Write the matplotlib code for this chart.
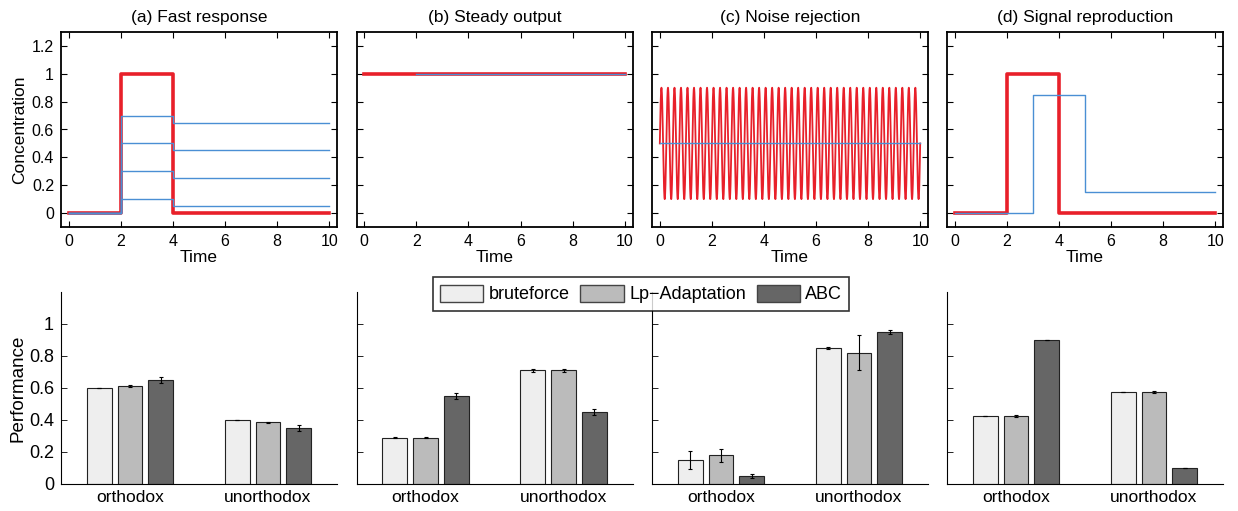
import numpy as np
import matplotlib
matplotlib.use("Agg")
import matplotlib.pyplot as plt
from matplotlib.patches import Patch

plt.rcParams['font.family'] = ['Liberation Sans', 'DejaVu Sans']

# ---------------- data ----------------
titles = ["(a) Fast response", "(b) Steady output", "(c) Noise rejection", "(d) Signal reproduction"]

# (a) input step and four output responses (piecewise constant)
a_input_t = [0, 2, 2, 4, 4, 10]
a_input_y = [0, 0, 1, 1, 0, 0]
a_resp_t = [0, 2, 2, 4, 4, 10]
a_resp_high = [0.7, 0.5, 0.3, 0.1]     # level during pulse (2..4)
a_resp_after = [0.65, 0.45, 0.25, 0.05]  # level after pulse (4..10)

# (b) steady
b_input_t = [0, 10]
b_input_y = [1, 1]
b_out_t = [2, 10]
b_out_y = [0.995, 0.995]

# (c) noise rejection: sinusoidal input around a mean
c_mean = 0.5
c_amp = 0.4
c_freq = 4.0
c_out_t = [0, 10]
c_out_y = [0.5, 0.5]

# (d) signal reproduction
d_input_t = [0, 2, 2, 4, 4, 10]
d_input_y = [0, 0, 1, 1, 0, 0]
d_out_t = [0, 3, 3, 5, 5, 10]
d_out_y = [0, 0, 0.85, 0.85, 0.15, 0.15]

# bottom bar charts
groups = ["orthodox", "unorthodox"]
methods = ["bruteforce", "Lp\u2212Adaptation", "ABC"]
perf = [
    [[0.600, 0.615, 0.650], [0.400, 0.385, 0.350]],
    [[0.290, 0.290, 0.550], [0.710, 0.710, 0.450]],
    [[0.150, 0.180, 0.050], [0.850, 0.820, 0.950]],
    [[0.425, 0.425, 0.900], [0.575, 0.575, 0.100]],
]
perf_err = [
    [[0.003, 0.006, 0.018], [0.003, 0.003, 0.018]],
    [[0.005, 0.005, 0.018], [0.008, 0.008, 0.018]],
    [[0.055, 0.040, 0.012], [0.005, 0.110, 0.010]],
    [[0.003, 0.004, 0.003], [0.002, 0.004, 0.003]],
]

# ---------------- style ----------------
RED = '#e8202a'
BLUE = '#4a8fd4'
bar_colors = ['#eeeeee', '#bbbbbb', '#666666']

W, H = 1238, 511
fig = plt.figure(figsize=(W / 100, H / 100), dpi=100)

lefts = [61, 356.5, 652, 947]
aw = 276
top_box = (32, 227)
bot_box = (292, 484)

def fax(left, box):
    return fig.add_axes([left / W, 1 - box[1] / H, aw / W, (box[1] - box[0]) / H])

fmt = matplotlib.ticker.FormatStrFormatter('%g')

top_axes = []
for i, l in enumerate(lefts):
    ax = fax(l, top_box)
    top_axes.append(ax)
    ax.set_xlim(-0.3, 10.3)
    ax.set_ylim(-0.1, 1.3)
    ax.set_xticks([0, 2, 4, 6, 8, 10])
    ax.set_yticks([0, 0.2, 0.4, 0.6, 0.8, 1.0, 1.2])
    ax.yaxis.set_major_formatter(fmt)
    ax.tick_params(direction='in', length=4, width=0.8, top=True, right=True,
                   labelsize=11.5, pad=5, colors='black')
    for s in ax.spines.values():
        s.set_linewidth(1.3)
    ax.set_title(titles[i], fontsize=12.5, pad=7)
    ax.set_xlabel("Time", fontsize=12.5, labelpad=1)
    if i == 0:
        ax.set_ylabel("Concentration", fontsize=12.5, labelpad=3)
    else:
        ax.set_yticklabels([])

# (a)
ax = top_axes[0]
ax.plot(a_input_t, a_input_y, color=RED, lw=2.6, zorder=2)
for hi, af in zip(a_resp_high, a_resp_after):
    ax.plot(a_resp_t, [0, 0, hi, hi, af, af], color=BLUE, lw=1.0, zorder=3)

# (b)
ax = top_axes[1]
ax.plot(b_input_t, b_input_y, color=RED, lw=2.6, zorder=2)
ax.plot(b_out_t, b_out_y, color=BLUE, lw=1.0, zorder=3)

# (c)
ax = top_axes[2]
tt = np.linspace(0, 10, 4001)
ax.plot(tt, c_mean + c_amp * np.sin(2 * np.pi * c_freq * tt), color=RED, lw=1.3, zorder=2)
ax.plot(c_out_t, c_out_y, color=BLUE, lw=1.0, zorder=3)

# (d)
ax = top_axes[3]
ax.plot(d_input_t, d_input_y, color=RED, lw=2.6, zorder=2)
ax.plot(d_out_t, d_out_y, color=BLUE, lw=1.0, zorder=3)

# bottom bars
x = np.arange(1, len(groups) + 1)
offs = [-0.222, 0.0, 0.222]
bw = 0.18
for i, l in enumerate(lefts):
    ax = fax(l, bot_box)
    for m in range(len(methods)):
        vals = [perf[i][g][m] for g in range(len(groups))]
        errs = [perf_err[i][g][m] for g in range(len(groups))]
        ax.bar(x + offs[m], vals, width=bw, color=bar_colors[m], edgecolor='#222222',
               linewidth=0.8, zorder=2)
        ax.errorbar(x + offs[m], vals, yerr=errs, fmt='none', ecolor='black',
                    elinewidth=0.8, capsize=1.5, capthick=0.8, zorder=3)
    ax.set_xlim(0.5, 2.5)
    ax.set_ylim(0, 1.2)
    ax.set_xticks(x)
    ax.set_xticklabels(groups, fontsize=12.5)
    ax.set_yticks([0, 0.2, 0.4, 0.6, 0.8, 1.0])
    ax.yaxis.set_major_formatter(fmt)
    ax.tick_params(axis='x', length=0, pad=4)
    ax.tick_params(axis='y', direction='in', length=4, width=0.6, labelsize=13, pad=5)
    ax.spines['top'].set_visible(False)
    ax.spines['right'].set_visible(False)
    for s in ('left', 'bottom'):
        ax.spines[s].set_linewidth(0.8)
    if i == 0:
        ax.set_ylabel("Performance", fontsize=13.5, labelpad=2)
    else:
        ax.set_yticklabels([])

handles = [Patch(facecolor=c, edgecolor='#444444', linewidth=1.0) for c in bar_colors]
leg = fig.legend(handles, methods, loc='center', bbox_to_anchor=(641 / W, 1 - 294 / H),
                 ncol=3, fontsize=13, frameon=True, fancybox=False, edgecolor='black',
                 handlelength=2.4, handleheight=1.1, handletextpad=0.3, columnspacing=0.6,
                 borderpad=0.4, borderaxespad=0)
leg.get_frame().set_linewidth(1.2)

fig.savefig("out.png", dpi=100)
